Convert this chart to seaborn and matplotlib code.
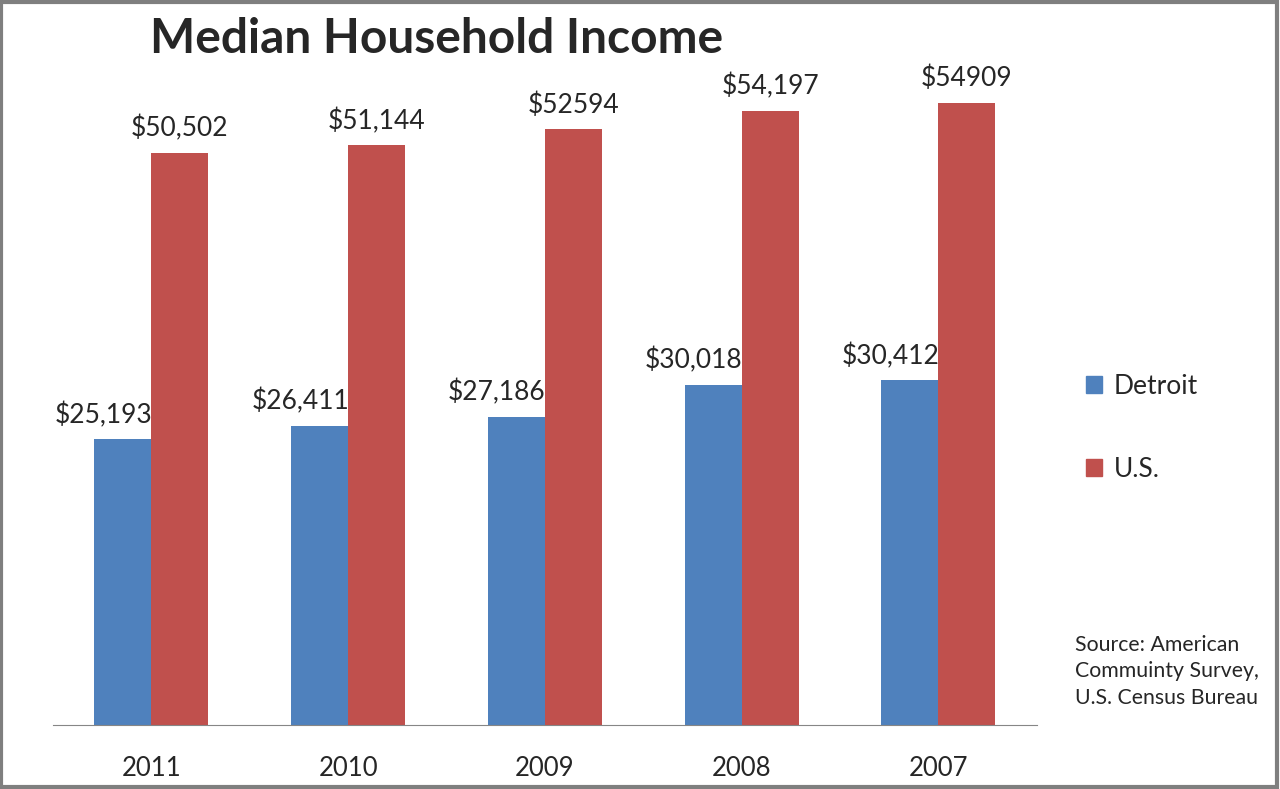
import pandas as pd
import seaborn as sns
import matplotlib.pyplot as plt
from matplotlib.patches import Rectangle, Patch

years = ["2011", "2010", "2009", "2008", "2007"]
detroit = [25193, 26411, 27186, 30018, 30412]
us = [50502, 51144, 52594, 54197, 54909]
detroit_labels = ["$25,193", "$26,411", "$27,186", "$30,018", "$30,412"]
us_labels = ["$50,502", "$51,144", "$52594", "$54,197", "$54909"]

df = pd.DataFrame({
    "year": years * 2,
    "income": detroit + us,
    "area": ["Detroit"] * 5 + ["U.S."] * 5,
})

sns.set_style("white")
plt.rcParams["font.family"] = ["Lato", "DejaVu Sans"]

fig = plt.figure(figsize=(12.8, 7.89), dpi=100)
ax = fig.add_axes([0.0414, 0.0811, 0.7686, 0.862])
pal = {"Detroit": "#4F81BD", "U.S.": "#C0504D"}
sns.barplot(data=df, x="year", y="income", hue="area", order=years,
            palette=pal, width=0.58, saturation=1, legend=False,
            linewidth=0, ax=ax)
ax.set_ylim(0, 60000)
ax.set_xlim(-0.5, 4.5)

# data labels, Detroit ones nudged left like in Excel
t1 = ax.bar_label(ax.containers[0], labels=detroit_labels, padding=8, fontsize=19)
for t in t1:
    t.xyann = (-14, 8)
ax.bar_label(ax.containers[1], labels=us_labels, padding=8, fontsize=19)

for s in ["top", "right", "left"]:
    ax.spines[s].set_visible(False)
ax.spines["bottom"].set_color("#868686")
ax.set_yticks([])
ax.set_xlabel("")
ax.set_ylabel("")
ax.set_xticks(range(5))
ax.set_xticklabels(years, fontsize=18.5)
ax.tick_params(axis="x", which="major", length=0, pad=22)
ax.set_xticks([-0.5, 0.5, 1.5, 2.5, 3.5, 4.5], minor=True)
ax.tick_params(axis="x", which="minor", length=7, color="#868686", width=1)

fig.text(0.117, 0.95, "Median Household Income", fontsize=34.5,
         fontweight="bold", va="center", ha="left")

handles = [Patch(color=pal["Detroit"]), Patch(color=pal["U.S."])]
fig.legend(handles, ["Detroit", "U.S."], loc="center left",
           bbox_to_anchor=(0.83, 0.458), frameon=False, fontsize=19,
           handlelength=0.6, handleheight=0.6, handletextpad=0.45,
           labelspacing=2.2)

fig.text(0.84, 0.149, "Source: American\nCommuinty Survey,\nU.S. Census Bureau",
         fontsize=15.3, va="center", ha="left", linespacing=1.4)

fig.patches.append(Rectangle((0.001, 0.002), 0.997, 0.996, transform=fig.transFigure,
                             fill=False, edgecolor="#7f7f7f", linewidth=3))

fig.savefig("out.png", dpi=100)
